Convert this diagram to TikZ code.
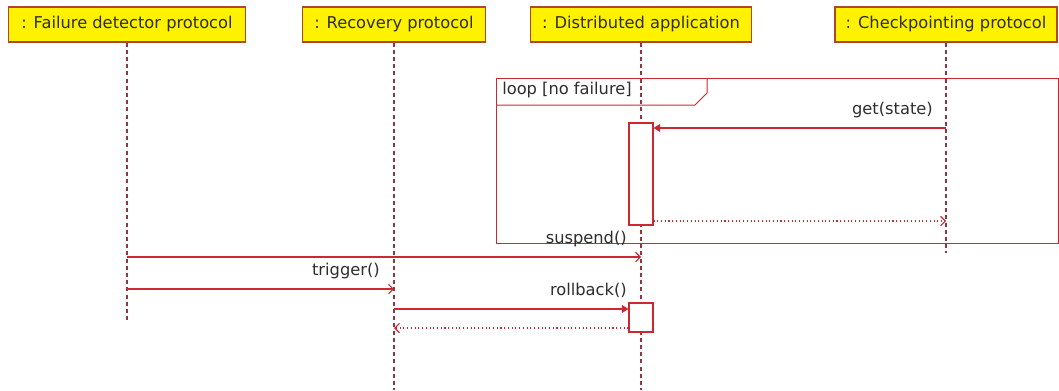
\documentclass[tikz,border=0pt]{standalone}
\usepackage{fontspec}
\setmainfont{DejaVu Sans}
\usetikzlibrary{arrows.meta}
\definecolor{umlred}{RGB}{204,40,50}
\definecolor{boxborder}{RGB}{175,70,50}
\definecolor{lifecol}{RGB}{140,55,65}
\definecolor{txt}{RGB}{45,45,45}
\begin{document}
\begin{tikzpicture}[x=0.75pt,y=-0.75pt,
  font=\fontsize{12.2}{14}\selectfont, text=txt,
  header/.style={draw=boxborder, fill=yellow, line width=0.9pt, minimum height=26.25pt, inner sep=0pt},
  lifeline/.style={draw=lifecol, dash pattern=on 3pt off 2.4pt, line width=0.8pt},
  act/.style={draw=umlred, fill=white, minimum width=18pt, inner sep=0pt, line width=0.8pt},
  frame/.style={draw=umlred, line width=0.75pt},
  sync/.style={draw=umlred, line width=0.9pt, -{Triangle[length=5pt,width=6pt]}},
  async/.style={draw=umlred, line width=0.8pt, -{Straight Barb[length=3.5pt,width=7pt]}},
  reply/.style={draw=umlred, line width=0.8pt, dotted, -{Straight Barb[length=3.5pt,width=7pt]}},
  msglabel/.style={anchor=base east, inner sep=0pt}
]
\useasboundingbox (0,0) rectangle (1059,390);

% loop frame
\draw[frame] (496,78) rectangle (1058,243);
\draw[frame] (496,105) -- (695,105) -- (707,93) -- (707,78);
\node[anchor=base west, inner sep=0pt] (looplbl) at (502,94) {loop [no failure]};

% headers
\node[header, minimum width=178.3pt] (fd) at (127,24.5) {: Failure detector protocol};
\node[header, minimum width=137.25pt] (rp) at (394,24.5) {: Recovery protocol};
\node[header, minimum width=165.75pt] (da) at (641,24.5) {: Distributed application};
\node[header, minimum width=166.5pt] (cp) at (946,24.5) {: Checkpointing protocol};

% lifeline ends
\coordinate (fdend) at (fd |- 0,322);
\coordinate (rpend) at (rp |- 0,390);
\coordinate (daend) at (da |- 0,390);
\coordinate (cpend) at (cp |- 0,253);
\draw[lifeline] (fd.south) -- (fdend);
\draw[lifeline] (rp.south) -- (rpend);
\draw[lifeline] (da.south) -- (daend);
\draw[lifeline] (cp.south) -- (cpend);

% activations
\node[act, minimum height=76.5pt] (a1) at (da |- 0,174) {};
\node[act, minimum height=21.75pt] (a2) at (da |- 0,317.5) {};

% messages
\draw[sync] (cp |- 0,128) -- (a1.east |- 0,128);
\node[msglabel] (lget) at (933,114) {get(state)};
\draw[reply] (a1.east |- 0,221) -- (cp |- 0,221);

\draw[async] (fd |- 0,257) -- (da |- 0,257);
\node[msglabel] (lsusp) at (627,243) {suspend()};

\draw[async] (fd |- 0,289) -- (rp |- 0,289);
\node[msglabel] (ltrig) at (380,275) {trigger()};

\draw[sync] (rp |- 0,309) -- (a2.west |- 0,309);
\node[msglabel] (lroll) at (627,295) {rollback()};
\draw[reply] (a2.west |- 0,328) -- (rp |- 0,328);
\end{tikzpicture}
\end{document}
